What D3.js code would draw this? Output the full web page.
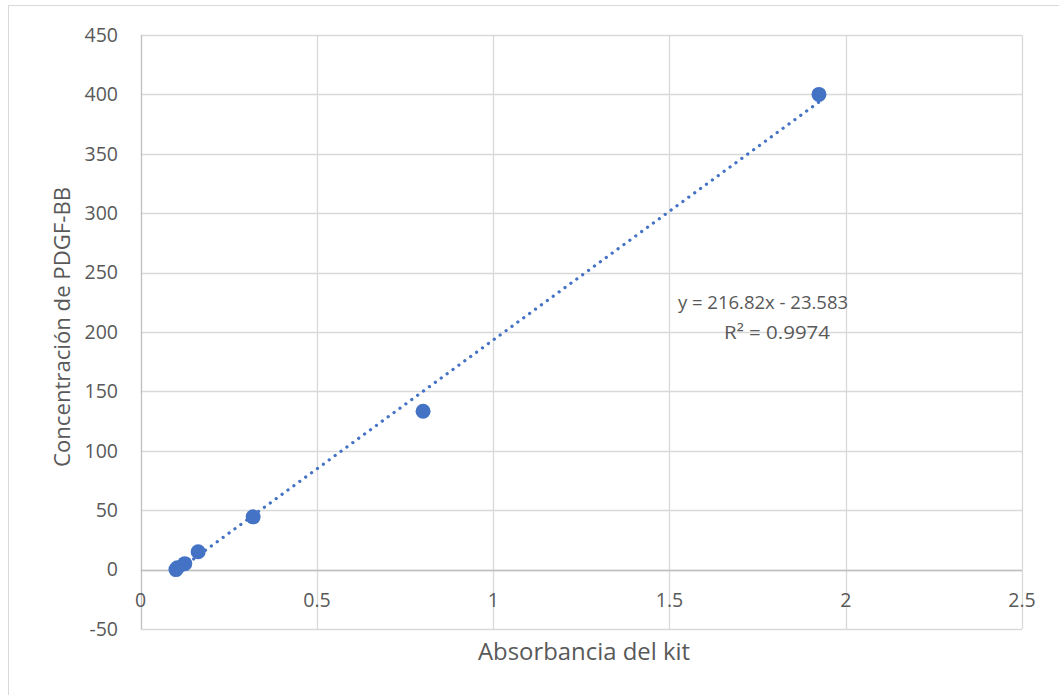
<!DOCTYPE html>
<html><head><meta charset="utf-8">
<script src="https://cdn.jsdelivr.net/npm/d3@7"></script>
<style>
html,body{margin:0;padding:0;background:#fff;}
text{font-family:"Open Sans","Noto Sans",sans-serif;fill:#595959;}
</style></head>
<body>
<svg id="chart" width="1059" height="695"></svg>
<script>
const absorbance = [0.100, 0.104, 0.125, 0.163, 0.319, 0.801, 1.924];
const concentration = [0.0, 1.6, 5.0, 15.0, 44.4, 133.3, 400.0];
const xTicks = [0, 0.5, 1, 1.5, 2, 2.5];
const yTicks = [-50, 0, 50, 100, 150, 200, 250, 300, 350, 400, 450];
const slope = 216.82, intercept = -23.583, r2 = 0.9974;
const xTitle = "Absorbancia del kit";
const yTitle = "Concentración de PDGF-BB";

const svg = d3.select("#chart");
const color = "#4472C4";
const grid = "#D9D9D9";
const L = 140.7, R = 1022, T = 35, B = 629;

const x = d3.scaleLinear().domain([0, 2.5]).range([L, R]);
const y = d3.scaleLinear().domain([-50, 450]).range([B, T]);

// chart border
svg.append("rect").attr("x", 8.5).attr("y", 5.5).attr("width", 1100).attr("height", 800)
  .attr("fill", "none").attr("stroke", "#D9D9D9");

// gridlines
svg.append("g").selectAll("line").data(yTicks).join("line")
  .attr("x1", L).attr("x2", R).attr("y1", d => Math.round(y(d)) + 0.5).attr("y2", d => Math.round(y(d)) + 0.5)
  .attr("stroke", grid).attr("stroke-width", 1.3);
svg.append("g").selectAll("line").data(xTicks).join("line")
  .attr("y1", T).attr("y2", B).attr("x1", d => Math.round(x(d)) + 0.5).attr("x2", d => Math.round(x(d)) + 0.5)
  .attr("stroke", d => d === 0 ? "#BFBFBF" : grid).attr("stroke-width", 1.3);
// x axis line at 0
svg.append("line").attr("x1", L).attr("x2", R).attr("y1", Math.round(y(0)) + 0.5).attr("y2", Math.round(y(0)) + 0.5)
  .attr("stroke", "#BFBFBF").attr("stroke-width", 1.3);

// y tick labels
svg.append("g").selectAll("text").data(yTicks).join("text")
  .attr("x", 118).attr("y", d => y(d)).attr("dy", "0.35em").attr("text-anchor", "end")
  .attr("font-size", 19.5).text(d => d);
// x tick labels
svg.append("g").selectAll("text").data(xTicks).join("text")
  .attr("x", d => x(d)).attr("y", y(0) + 31).attr("dy", "0.35em").attr("text-anchor", "middle")
  .attr("font-size", 19.5).text(d => d);

// titles
svg.append("text").attr("x", 584).attr("y", 652).attr("dy", "0.35em")
  .attr("text-anchor", "middle").attr("font-size", 23).attr("textLength", 212).attr("lengthAdjust", "spacingAndGlyphs").text(xTitle);
svg.append("text").attr("transform", `translate(62,327) rotate(-90)`).attr("dy", "0.35em")
  .attr("text-anchor", "middle").attr("font-size", 22.5).attr("textLength", 280).attr("lengthAdjust", "spacingAndGlyphs").text(yTitle);

// trendline
const xmin = d3.min(absorbance), xmax = d3.max(absorbance);
svg.append("line")
  .attr("x1", x(xmin)).attr("y1", y(slope * xmin + intercept))
  .attr("x2", x(xmax)).attr("y2", y(slope * xmax + intercept))
  .attr("stroke", color).attr("stroke-width", 3.2).attr("stroke-linecap", "round")
  .attr("stroke-dasharray", "0.1 7.2");

// points
svg.append("g").selectAll("circle").data(absorbance.map((a, i) => [a, concentration[i]])).join("circle")
  .attr("cx", d => x(d[0])).attr("cy", d => y(d[1])).attr("r", 7.5).attr("fill", color);

// equation label
svg.append("text").attr("x", 763).attr("y", 303).attr("dy", "0.35em").attr("text-anchor", "middle")
  .attr("font-size", 18.5).text(`y = ${slope}x - ${Math.abs(intercept)}`);
svg.append("text").attr("x", 777).attr("y", 333).attr("dy", "0.35em").attr("text-anchor", "middle")
  .attr("font-size", 18.5).attr("textLength", 106).attr("lengthAdjust", "spacingAndGlyphs").text(`R² = ${r2}`);
</script>
</body></html>
